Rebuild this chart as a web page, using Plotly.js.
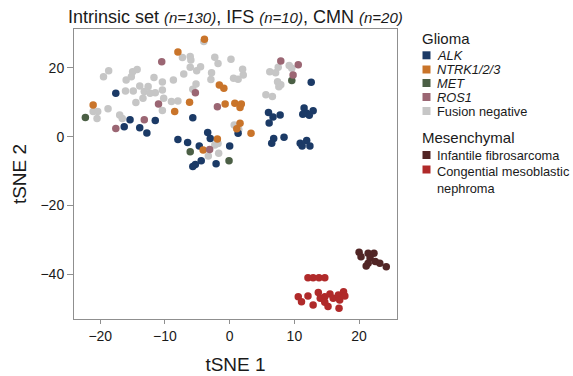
<!DOCTYPE html>
<html><head><meta charset="utf-8">
<script src="https://cdn.plot.ly/plotly-3.0.1.min.js"></script>
<style>html,body{margin:0;padding:0;background:#fff}#chart{width:573px;height:376px}</style>
</head><body><div id="chart"></div>
<script>
// ---- data (tSNE coordinates) ----
const fusionNegX = [-4.0,-19.5,-18.7,-16.0,-15.2,-15.0,-14.3,-11.7,-10.4,-8.7,-13.9,-12.6,-16.1,-14.9,-13.2,-12.3,-11.5,-10.4,-13.4,-10.2,-14.5,-9.0,-8.0,-18.8,-10.4,-21.1,-20.4,-20.5,-17.0,-16.6,
  -7.3,-6.1,-6.0,-2.3,-1.8,0.2,-7.1,-6.1,-5.1,-4.5,-2.8,-2.9,0.6,1.3,2.1,2.0,-5.2,-5.7,0.7,-2.3,-1.8,-3.3,-1.7,
  6.2,7.1,7.5,9.2,9.6,7.4,7.6,7.9,5.6,6.6,1.4];
const fusionNegY = [27.7,17.4,19.2,16.5,17.4,18.9,19.5,17.2,15.9,16.5,14.7,14.6,13.3,13.3,13.1,12.6,12.8,13.6,11.2,11.2,9.9,10.2,10.4,8.1,7.6,7.3,7.3,5.3,6.3,5.3,
  23.0,23.3,22.3,23.1,21.3,22.5,18.2,20.2,19.2,20.3,18.6,16.6,17.0,16.7,17.9,19.6,15.3,13.8,3.4,-2.4,-2.0,-5.6,-4.8,
  18.9,18.6,20.2,20.7,19.9,16.0,14.5,15.1,12.2,11.7,2.1];

const alkX = [-17.6,-15.4,-11.5,-16.3,-13.9,-12.8,-8.0,-6.5,-5.7,-3.4,-3.0,-4.7,0.0,-4.4,-5.3,-5.7,-2.1,1.3,
  12.6,6.0,6.7,7.8,6.1,11.5,11.9,12.9,11.3,12.3,6.8,8.4,6.5,10.9,11.9,12.4,11.2];
const alkY = [12.6,4.9,4.7,2.9,2.6,1.1,-0.8,-1.7,5.5,1.2,-0.5,-2.7,-2.7,-7.0,-8.1,-8.7,-7.9,1.0,
  15.8,7.0,5.7,6.3,4.0,8.3,6.8,7.5,6.5,6.2,-0.5,-0.2,-1.9,-1.9,-1.1,-2.7,-2.7];

const ntrkX = [-8.0,-3.9,-21.1,-8.5,-6.2,-1.6,-0.9,-0.7,0.8,1.8,1.6,1.6,1.1,3.3,-1.9,-4.1];
const ntrkY = [24.6,28.3,9.2,7.3,10.0,15.0,14.1,9.5,9.7,9.5,8.5,3.9,2.3,1.0,-0.7,-3.9];

const metX = [-22.3,-6.1,-0.1,9.6];
const metY = [5.6,-4.4,-7.0,16.3];

const ros1X = [-10.5,-11.0,-13.2,-17.6,-5.3,-1.9,-3.1,7.9,10.6,9.8];
const ros1Y = [21.8,9.5,4.9,2.4,12.8,8.7,-3.7,22.0,20.9,17.9];

const ifsX = [20.0,20.3,21.4,22.3,21.7,22.5,21.4,21.1,23.2,24.2];
const ifsY = [-33.6,-34.9,-33.9,-33.9,-35.3,-36.3,-36.8,-37.6,-36.8,-37.8];

const cmnX = [12.1,12.9,13.8,14.7,10.6,11.1,12.1,12.9,13.7,14.0,14.7,14.7,15.2,15.5,16.0,16.8,17.0,17.6,17.8,16.9];
const cmnY = [-41.0,-41.0,-41.0,-41.0,-46.5,-48.0,-46.3,-48.9,-45.3,-47.0,-46.5,-48.1,-49.4,-45.7,-47.0,-46.0,-47.5,-45.1,-46.3,-49.9];

const xTicks = [-20,-10,0,10,20];
const yTicks = [-40,-20,0,20];

const gliomaLabels = ['<i>ALK</i>','<i>NTRK1/2/3</i>','<i>MET</i>','<i>ROS1</i>','Fusion negative'];
const mesLabels = ['Infantile fibrosarcoma','Congential mesoblastic<br>nephroma'];
const groupTitles = ['Glioma','Mesenchymal'];

// ---- styles ----
const C = {alk:'#1b3a66', ntrk:'#c9742a', met:'#4b5f45', ros1:'#9b6673', neg:'#c6c6c6', ifs:'#512525', cmn:'#b02a2a'};
const gliomaColors = [C.alk, C.ntrk, C.met, C.ros1, C.neg];
const mesColors = [C.ifs, C.cmn];

function tr(x, y, color){
  return {type:'scatter', mode:'markers', x:x, y:y, showlegend:false, hoverinfo:'skip',
    marker:{size:7.5, color:color, opacity:1, line:{width:0}}};
}
const data = [
  tr(fusionNegX, fusionNegY, C.neg),
  tr(alkX, alkY, C.alk),
  tr(ntrkX, ntrkY, C.ntrk),
  tr(metX, metY, C.met),
  tr(ros1X, ros1Y, C.ros1),
  tr(ifsX, ifsY, C.ifs),
  tr(cmnX, cmnY, C.cmn)
];

// plot area in pixels: left 74, right 397, top 29, bottom 319
const PL=74, PR=397, PT=29, PB=319;
const P = px => (px-PL)/(PR-PL);
const Q = py => (PB-py)/(PB-PT);

const shapes = [];
const annotations = [];
const txt = '#1a1a1a';
function group(title, ty, labels, colors, ys){
  annotations.push({xref:'paper', yref:'paper', x:P(421), y:Q(ty), xanchor:'left', yanchor:'middle',
    showarrow:false, borderpad:0, text:title, font:{size:15, color:txt}});
  labels.forEach((lab,i)=>{
    const cy = ys[i];
    shapes.push({type:'rect', xref:'paper', yref:'paper', x0:P(422.5), x1:P(430.5), y0:Q(cy+4), y1:Q(cy-4),
      fillcolor:colors[i], line:{width:0}});
    const two = lab.indexOf('<br>')>=0;
    annotations.push({xref:'paper', yref:'paper', x:P(435.5), y:Q(two? cy-7 : cy), xanchor:'left',
      yanchor: two? 'top':'middle', align:'left', borderpad:0,
      showarrow:false, text:lab, font:{size:12.8, color:txt}});
  });
}
group(groupTitles[0], 39, gliomaLabels, gliomaColors, [55.3,69.5,83,97,111]);
group(groupTitles[1], 137.5, mesLabels, mesColors, [155,169.5]);

const axisCommon = {showline:true, mirror:true, linecolor:'#8f8f8f', linewidth:1, ticks:'outside',
  tickcolor:'#8f8f8f', showgrid:false, zeroline:false, tickfont:{size:14, color:txt}};

const layout = {
  width:573, height:376,
  margin:{l:PL, r:573-PR, t:PT, b:376-PB, pad:0},
  paper_bgcolor:'#fff', plot_bgcolor:'#fff',
  font:{family:'"Liberation Sans", Arial, Helvetica, sans-serif', color:txt},
  title:{text:'Intrinsic set <span style="font-size:15px"><i>(n=130)</i></span>, IFS <span style="font-size:15px"><i>(n=10)</i></span>, CMN <span style="font-size:15px"><i>(n=20)</i></span>',
    x:68/573, xanchor:'left', xref:'container', y:1-17/376, yanchor:'middle', yref:'container',
    font:{size:18, color:txt}},
  xaxis:Object.assign({}, axisCommon, {range:[-24.06,25.86], tickvals:xTicks, ticklen:4,
    title:{text:'tSNE 1', font:{size:19, color:txt}, standoff:14}}),
  yaxis:Object.assign({}, axisCommon, {range:[-53.0,31.3], tickvals:yTicks, ticklen:6,
    title:{text:'tSNE 2', font:{size:19, color:txt}, standoff:8}}),
  shapes:shapes, annotations:annotations, showlegend:false
};

Plotly.newPlot('chart', data, layout, {staticPlot:true, displayModeBar:false});
</script></body></html>
